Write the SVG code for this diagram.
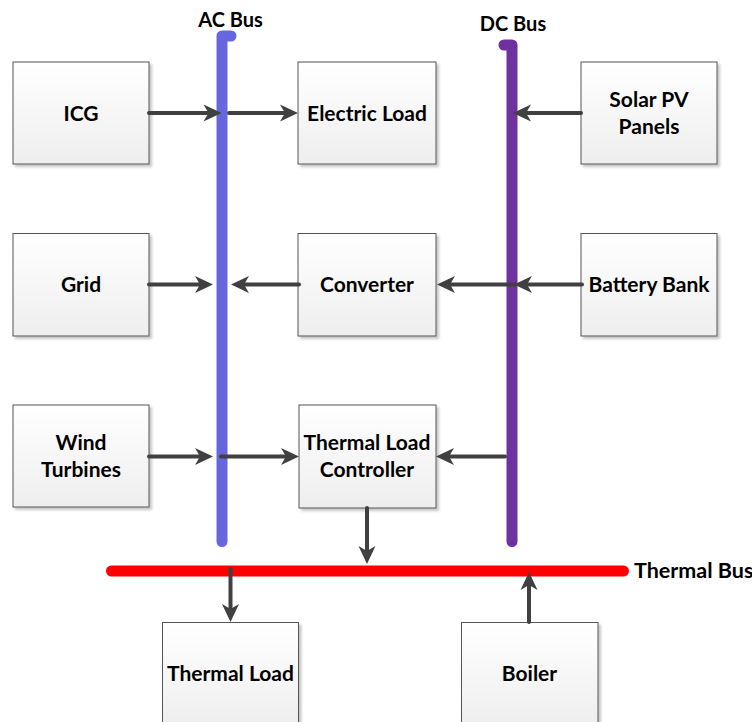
<svg xmlns="http://www.w3.org/2000/svg" width="752" height="722" viewBox="0 0 752 722">
<defs>
<linearGradient id="boxg" x1="0" y1="0" x2="0" y2="1">
<stop offset="0" stop-color="#ffffff"/>
<stop offset="1" stop-color="#eeeeee"/>
</linearGradient>
<filter id="sh" x="-10%" y="-10%" width="130%" height="130%">
<feDropShadow dx="2.5" dy="2.5" stdDeviation="1.2" flood-color="#000" flood-opacity="0.22"/>
</filter>
<marker id="ah" viewBox="-6 -9 20 18" refX="0" refY="0" markerWidth="20" markerHeight="18" markerUnits="userSpaceOnUse" orient="auto">
<path d="M13,0 L-5,-8.5 L0,0 L-5,8.5 Z" fill="#404040"/>
</marker>
</defs>
<style>
.box{fill:url(#boxg);stroke:#555555;stroke-width:1;filter:url(#sh)}
.lbl{font-family:Lato,"Open Sans","Liberation Sans",sans-serif;font-weight:bold;font-size:21px;fill:#000;text-anchor:middle}
.ttl{font-family:Lato,"Open Sans","Liberation Sans",sans-serif;font-weight:bold;font-size:20px;fill:#000;text-anchor:middle}
.bus{fill:none;stroke-width:11;stroke-linecap:round;stroke-linejoin:round}
.con{stroke:#404040;stroke-width:4;stroke-linecap:round;fill:none;marker-end:url(#ah)}
</style>
<rect width="752" height="722" fill="#ffffff"/>

<g id="ac-bus">
<path class="bus" stroke="#6666e0" d="M222,541.5 L222,36 L231,36"/>
<text class="ttl" x="230.5" y="27">AC Bus</text>
</g>
<g id="dc-bus">
<path class="bus" stroke="#7030a0" d="M512,541.5 L512,45 L504,45"/>
<text class="ttl" x="513" y="31">DC Bus</text>
</g>
<g id="thermal-bus">
<path class="bus" stroke="#ff0000" d="M111.5,571 L623.5,571"/>
<text class="ttl" x="634" y="578" style="text-anchor:start;font-size:21.5px">Thermal Bus</text>
</g>

<g id="icg"><rect class="box" x="13" y="62" width="136" height="102"/><text class="lbl" x="81" y="120.5">ICG</text></g>
<g id="electric-load"><rect class="box" x="298" y="62" width="138" height="102"/><text class="lbl" x="367" y="120.5">Electric Load</text></g>
<g id="solar-pv"><rect class="box" x="581" y="62" width="136" height="102"/><text class="lbl" x="649" y="107">Solar PV</text><text class="lbl" x="649" y="134">Panels</text></g>

<g id="grid"><rect class="box" x="13" y="233.5" width="136" height="102.5"/><text class="lbl" x="81" y="292">Grid</text></g>
<g id="converter"><rect class="box" x="298" y="233.5" width="138" height="102.5"/><text class="lbl" x="367" y="292">Converter</text></g>
<g id="battery-bank"><rect class="box" x="581" y="233.5" width="136" height="102.5"/><text class="lbl" x="649" y="292">Battery Bank</text></g>

<g id="wind-turbines"><rect class="box" x="13" y="405" width="136" height="102"/><text class="lbl" x="81" y="450">Wind</text><text class="lbl" x="81" y="476.5">Turbines</text></g>
<g id="thermal-load-controller"><rect class="box" x="299" y="405" width="137" height="103"/><text class="lbl" x="367" y="450">Thermal Load</text><text class="lbl" x="367" y="476.5">Controller</text></g>

<g id="thermal-load"><rect class="box" x="162.5" y="622.5" width="136" height="104"/><text class="lbl" x="230.5" y="681">Thermal Load</text></g>
<g id="boiler"><rect class="box" x="461.5" y="622.5" width="136.5" height="104"/><text class="lbl" x="529.5" y="681">Boiler</text></g>

<g id="connectors">
<line class="con" x1="149" y1="113" x2="208.5" y2="113"/>
<line class="con" x1="229" y1="113" x2="285" y2="113"/>
<line class="con" x1="581" y1="113" x2="526" y2="113"/>
<line class="con" x1="149" y1="284.5" x2="200" y2="284.5"/>
<line class="con" x1="299" y1="284.5" x2="244" y2="284.5"/>
<line class="con" x1="515" y1="284.5" x2="450" y2="284.5"/>
<line class="con" x1="582" y1="284.5" x2="527" y2="284.5"/>
<line class="con" x1="149" y1="456.5" x2="200" y2="456.5"/>
<line class="con" x1="221" y1="456.5" x2="286" y2="456.5"/>
<line class="con" x1="505" y1="456.5" x2="449" y2="456.5"/>
<line class="con" x1="367" y1="508" x2="367" y2="551"/>
<line class="con" x1="230.5" y1="569" x2="230.5" y2="609"/>
<line class="con" x1="529" y1="622" x2="529" y2="585"/>
</g>
</svg>
